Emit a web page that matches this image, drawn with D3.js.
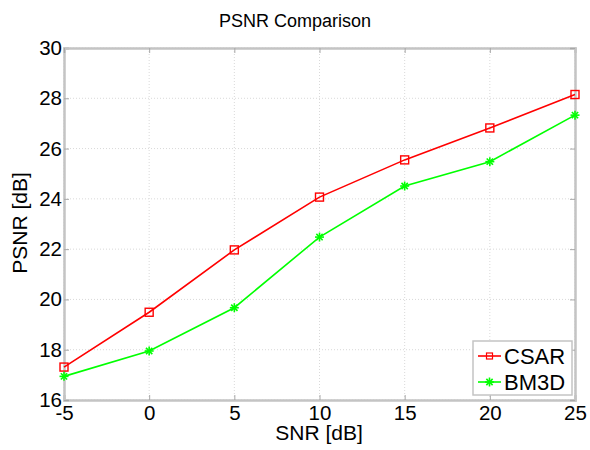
<!DOCTYPE html>
<html><head><meta charset="utf-8">
<script src="https://cdn.jsdelivr.net/npm/d3@7"></script>
<style>body{margin:0;background:#fff}svg{display:block}text{font-family:"Liberation Sans",Arial,sans-serif;fill:#000}</style>
</head><body><svg id="c" width="590" height="450"></svg>
<script>
const snr = [-5, 0, 5, 10, 15, 20, 25];
const csar = [17.31, 19.49, 21.97, 24.07, 25.55, 26.82, 28.15];
const bm3d = [16.94, 17.95, 19.67, 22.48, 24.51, 25.48, 27.33];
const xTicks = [-5, 0, 5, 10, 15, 20, 25];
const yTicks = [16, 18, 20, 22, 24, 26, 28, 30];
const seriesNames = ["CSAR", "BM3D"];
const seriesColors = ["#ff0000", "#00ff00"];

const svg = d3.select("#c");
const L = 64, R = 575, T = 48, B = 400;
const x = d3.scaleLinear().domain([-5, 25]).range([L, R]);
const y = d3.scaleLinear().domain([16, 30]).range([B, T]);

// grid
const g = svg.append("g");
g.selectAll(".gx").data(xTicks).enter().append("line")
  .attr("x1", d => x(d)).attr("x2", d => x(d)).attr("y1", T).attr("y2", B)
  .attr("stroke", "#d9d9d9").attr("stroke-width", 1).attr("stroke-dasharray", "1,2");
g.selectAll(".gy").data(yTicks).enter().append("line")
  .attr("y1", d => y(d)).attr("y2", d => y(d)).attr("x1", L).attr("x2", R)
  .attr("stroke", "#d9d9d9").attr("stroke-width", 1).attr("stroke-dasharray", "1,2");

// axes with inner ticks
const fmt = d => String(d);
const axB = d3.axisBottom(x).tickValues(xTicks).tickSize(-5).tickPadding(5).tickFormat(fmt);
const axL = d3.axisLeft(y).tickValues(yTicks).tickSize(-5).tickPadding(2).tickFormat(fmt);
const axT = d3.axisTop(x).tickValues(xTicks).tickSize(-5).tickFormat("");
const axR = d3.axisRight(y).tickValues(yTicks).tickSize(-5).tickFormat("");
function style(sel){
  sel.select(".domain").attr("stroke", "#c4c4c4").attr("stroke-width", 2.5);
  sel.selectAll(".tick line").attr("stroke", "#a8a8a8").attr("stroke-width", 1);
  sel.selectAll(".tick text").attr("font-size", 20.5).attr("font-family", '"Liberation Sans",Arial,sans-serif').attr("fill", "#000");
}
svg.append("g").attr("transform", `translate(0,${B})`).call(axB).call(style);
svg.append("g").attr("transform", `translate(${L},0)`).call(axL).call(style);
svg.append("g").attr("transform", `translate(0,${T})`).call(axT).call(style);
svg.append("g").attr("transform", `translate(${R},0)`).call(axR).call(style);

// lines
const data = [csar, bm3d];
const line = d3.line().x((d, i) => x(snr[i])).y(d => y(d));
data.forEach((vals, k) => {
  svg.append("path").datum(vals).attr("d", line).attr("fill", "none")
    .attr("stroke", seriesColors[k]).attr("stroke-width", 1.6);
});
function square(sel, cx, cy){
  sel.append("rect").attr("x", cx - 4).attr("y", cy - 4).attr("width", 8).attr("height", 8)
    .attr("fill", "none").attr("stroke", "#ff0000").attr("stroke-width", 1.4);
}
function star(sel, cx, cy){
  const r = 4.5;
  [[-r,0,r,0],[0,-r,0,r],[-r*0.7,-r*0.7,r*0.7,r*0.7],[-r*0.7,r*0.7,r*0.7,-r*0.7]].forEach(a => {
    sel.append("line").attr("x1", cx + a[0]).attr("y1", cy + a[1]).attr("x2", cx + a[2]).attr("y2", cy + a[3])
      .attr("stroke", "#00ff00").attr("stroke-width", 1.6);
  });
}
const mk = svg.append("g");
csar.forEach((v, i) => square(mk, x(snr[i]), y(v)));
bm3d.forEach((v, i) => star(mk, x(snr[i]), y(v)));

// title and labels
svg.append("text").attr("x", 295).attr("y", 27).attr("text-anchor", "middle").attr("font-size", 18).text("PSNR Comparison");
svg.append("text").attr("x", 319).attr("y", 440).attr("text-anchor", "middle").attr("font-size", 21).text("SNR [dB]");
svg.append("text").attr("transform", "translate(27,223) rotate(-90)").attr("text-anchor", "middle").attr("font-size", 21).text("PSNR [dB]");

// legend
const lg = svg.append("g");
lg.append("rect").attr("x", 473).attr("y", 341).attr("width", 99).attr("height", 54)
  .attr("fill", "#fff").attr("stroke", "#c4c4c4").attr("stroke-width", 1.5);
seriesNames.forEach((n, k) => {
  const cy = 356 + k * 26;
  lg.append("line").attr("x1", 478).attr("x2", 501).attr("y1", cy).attr("y2", cy)
    .attr("stroke", seriesColors[k]).attr("stroke-width", 1.6);
  if (k === 0) {
    lg.append("rect").attr("x", 489.5 - 3).attr("y", cy - 3).attr("width", 6).attr("height", 6)
      .attr("fill", "none").attr("stroke", "#ff0000").attr("stroke-width", 1.2);
  } else star(lg, 489.5, cy);
  lg.append("text").attr("x", 504).attr("y", cy + 8).attr("font-size", 22).text(n);
});
</script></body></html>
